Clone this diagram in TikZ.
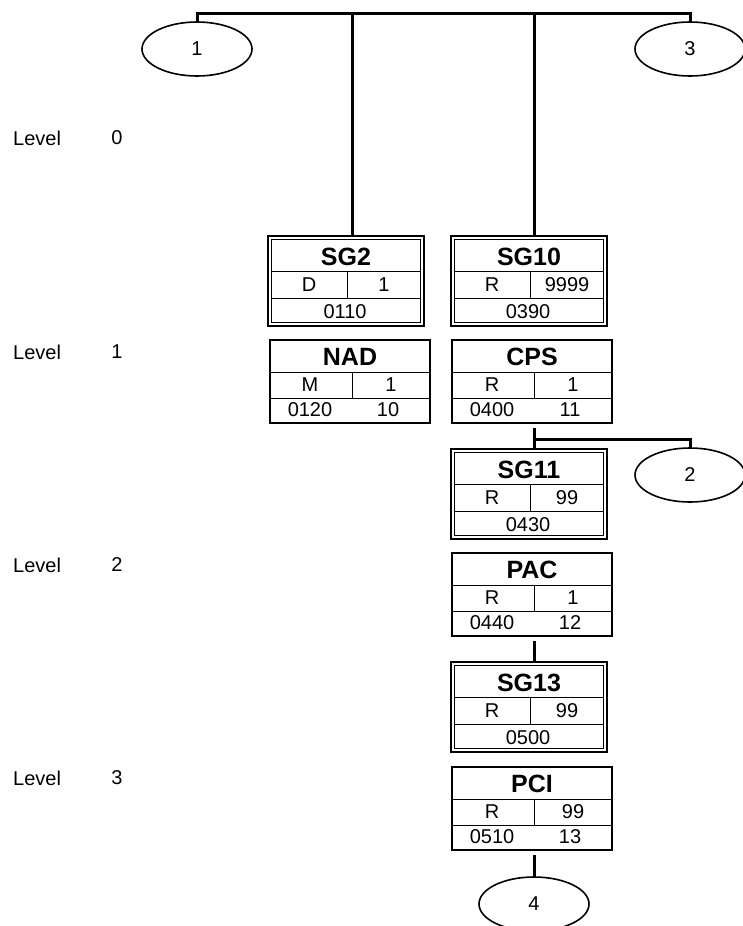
\documentclass[tikz,border=0pt]{standalone}
\usepackage{fontspec}
\setmainfont{Liberation Sans}
\usetikzlibrary{shapes.geometric}
\tikzset{
  conn/.style={line width=3pt},
  frame/.style={draw, line width=1.8pt, rectangle, inner sep=0pt, outer sep=0pt, anchor=north west},
  gframe/.style={frame, line width=2.2pt},
  thinline/.style={line width=1pt},
  oval/.style={draw, ellipse, line width=1.6pt, minimum width=110pt, minimum height=54pt, inner sep=0pt, font=\fontsize{20}{24}\selectfont},
  ttl/.style={font=\fontsize{25}{30}\selectfont\bfseries, inner sep=0pt},
  txt/.style={font=\fontsize{20}{24}\selectfont, inner sep=0pt},
}
% group box: name, left x, top y, title, status, repeat, code
\newcommand{\grpbox}[7]{%
  \node[gframe, minimum width=156pt, minimum height=90pt] (#1) at (#2,#3) {};
  \draw[thinline] ([shift={(3.5,3.5)}]#1.north west) rectangle ([shift={(-3.5,-3.5)}]#1.south east);
  \draw[thinline] (#2+3,#3+35) -- (#2+153,#3+35);
  \draw[thinline] (#2+3,#3+62) -- (#2+153,#3+62);
  \draw[thinline] (#2+79,#3+35) -- (#2+79,#3+62);
  \node[ttl] (#1-t) at (#2+78,#3+21) {#4};
  \node[txt] (#1-s) at (#2+41,#3+49) {#5};
  \node[txt] (#1-r) at (#2+116,#3+49) {#6};
  \node[txt] (#1-c) at (#2+77,#3+76) {#7};
}
% segment box: name, left x, top y, title, status, repeat, code, position
\newcommand{\segbox}[8]{%
  \node[frame, minimum width=160pt, minimum height=83pt] (#1) at (#2,#3) {};
  \draw[thinline] (#2,#3+32) -- (#2+160,#3+32);
  \draw[thinline] (#2,#3+58) -- (#2+160,#3+58);
  \draw[thinline] (#2+82,#3+32) -- (#2+82,#3+58);
  \node[ttl] (#1-t) at (#2+80,#3+17) {#4};
  \node[txt] (#1-s) at (#2+40,#3+45) {#5};
  \node[txt] (#1-r) at (#2+121,#3+45) {#6};
  \node[txt] (#1-c) at (#2+40,#3+70) {#7};
  \node[txt] (#1-p) at (#2+118,#3+70) {#8};
}
\begin{document}
\begin{tikzpicture}[x=1pt,y=-1pt]
\useasboundingbox (0,0) rectangle (742,926);

% level labels
\foreach \i/\yy in {0/138,1/352,2/565,3/778}{
  \node[txt, anchor=west] (lv\i) at (13,\yy) {Level};
  \node[txt] (lvn\i) at (117,\yy) {\i};
}

% ovals
\node[oval] (e1) at (197,49) {1};
\node[oval] (e3) at (690,49) {3};
\node[oval] (e2) at (690,475) {2};
\node[oval] (e4) at (534,904) {4};

% boxes
\grpbox{sg2}{268}{236}{SG2}{D}{1}{0110}
\grpbox{sg10}{451}{236}{SG10}{R}{9999}{0390}
\segbox{nad}{270}{340}{NAD}{M}{1}{0120}{10}
\segbox{cps}{452}{340}{CPS}{R}{1}{0400}{11}
\grpbox{sg11}{451}{449}{SG11}{R}{99}{0430}
\segbox{pac}{452}{553}{PAC}{R}{1}{0440}{12}
\grpbox{sg13}{451}{662}{SG13}{R}{99}{0500}
\segbox{pci}{452}{767}{PCI}{R}{99}{0510}{13}

% connectors
\coordinate (bar) at (352,13);
\coordinate (ax) at (534,13);
\coordinate (br) at (534,439);
\draw[conn] (e1.north) |- (bar) -| (e3.north);
\draw[conn] (bar) -- (bar |- sg2.north);
\draw[conn] (ax) -- (ax |- sg10.north);
\draw[conn, shorten <=5pt] (ax |- cps.south) -- (ax |- sg11.north);
\draw[conn] (br) -| (e2.north);
\draw[conn, shorten <=5pt] (ax |- pac.south) -- (ax |- sg13.north);
\draw[conn, shorten <=5pt] (ax |- pci.south) -- (ax |- e4.north);
\end{tikzpicture}
\end{document}
